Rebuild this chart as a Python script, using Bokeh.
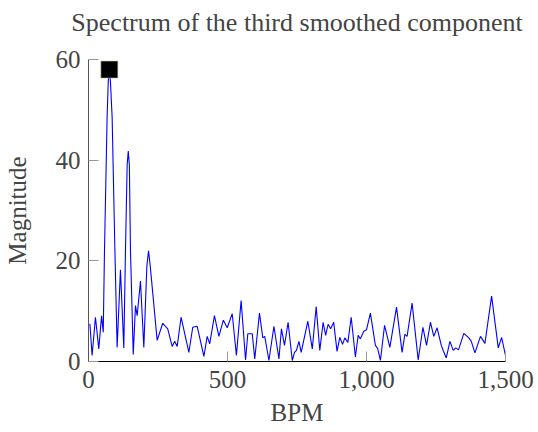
from bokeh.plotting import figure
from bokeh.models import NumeralTickFormatter, FixedTicker, Range1d, Title
from bokeh.embed import file_html
from bokeh.resources import INLINE

bpm = [5, 13, 25, 37, 47, 53, 57.5, 67, 71, 75, 79, 85, 95, 103, 115, 127, 133, 139, 143, 147, 151,
       161, 169, 175, 187, 199, 210, 216, 222, 247, 267, 285, 301, 310, 319, 333, 361, 375, 391,
       415, 427, 436, 453, 469, 485, 499, 517, 532, 549, 565, 573, 589, 598, 615, 627, 634,
       649, 667, 685, 694, 705, 718, 733, 741, 748, 757, 765, 789, 805, 819, 832, 844, 853,
       862, 871, 882, 894, 904, 914, 922, 933, 945, 960, 970, 978, 990, 1000, 1014, 1032,
       1040, 1050, 1065, 1084, 1108, 1128, 1138, 1146, 1164, 1186, 1203, 1216, 1230, 1242,
       1254, 1269, 1276, 1287, 1300, 1312, 1321, 1331, 1350, 1368, 1377, 1390, 1410, 1426,
       1450, 1474, 1486, 1500]
magnitude = [7.5, 1.2, 8.8, 2.5, 9.1, 5.8, 22, 48.6, 55.5, 58, 55.5, 48.6, 22, 2.8, 18.2, 2.7, 22, 39, 41.8, 39, 22,
             1.4, 11.1, 9.1, 16, 2.8, 19, 22, 19, 4.2, 7.6, 6.5, 3, 4, 3, 8.8, 1.8, 6.8, 7,
             1, 5, 3.5, 9.1, 5, 8.2, 6.7, 9.5, 1.2, 12.1, 0.3, 5.5, 5.5, 0.5, 9.6, 4.7, 5,
             0.2, 7, 0.5, 6.5, 3.2, 7.8, 0.2, 1.8, 2.2, 4, 1.8, 8, 2.5, 10.9, 2.2, 7.8, 5.2,
             7.4, 6.5, 7.8, 2, 4.8, 3.4, 4.7, 3.8, 8.8, 0.9, 5.2, 4.5, 6, 6.3, 9.6, 3.2,
             2.6, 0.2, 7.2, 2.8, 10.8, 1.8, 5.4, 5, 11.6, 0.3, 6.8, 3.2, 7.8, 5,
             6.7, 3.2, 2.2, 0.7, 4, 2.2, 2.7, 2.3, 5.6, 4.7, 4, 1.7, 5, 3.6,
             13, 2.7, 4.8, 1.2]
peak_bpm = [75]
peak_mag = [58]
x_ticks = [0, 500, 1000, 1500]
y_ticks = [0, 20, 40, 60]
title_text = "Spectrum of the third smoothed component"

FONT = "Liberation Serif"

p = figure(width=538, height=432, output_backend="svg", toolbar_location=None,
           x_range=Range1d(0, 1500), y_range=Range1d(0, 60),
           min_border_left=88, min_border_right=33, min_border_top=59, min_border_bottom=71)
p.outline_line_color = None
p.grid.visible = False
p.background_fill_color = "white"

p.line(bpm, magnitude, line_color="#0000ff", line_width=1.1)
p.scatter(peak_bpm, peak_mag, marker="square", size=17, fill_color="black",
          line_color="#c8c090", line_width=0.6)

# spacer panel between the frame and the title, then the title itself
spacer = Title(text=" ", text_font_size="2px", standoff=15)
p.add_layout(spacer, "above")
main_title = Title(text=title_text, align="center", text_font=FONT, text_font_size="26px",
                   text_font_style="normal", standoff=8)
p.add_layout(main_title, "above")

for ax in (p.xaxis[0], p.yaxis[0]):
    ax.major_label_text_font = FONT
    ax.major_label_text_font_size = "25px"
    ax.axis_label_text_font = FONT
    ax.axis_label_text_font_size = "25px"
    ax.axis_label_text_font_style = "normal"
    ax.major_tick_in = 10
    ax.major_tick_out = 0
    ax.minor_tick_in = 0
    ax.minor_tick_out = 0
    ax.major_tick_line_color = "#999999"
p.xaxis.axis_line_color = "black"
p.yaxis.axis_line_color = "#555555"

p.xaxis.ticker = FixedTicker(ticks=x_ticks)
p.yaxis.ticker = FixedTicker(ticks=y_ticks)
p.xaxis.formatter = NumeralTickFormatter(format="0,0")
p.xaxis.axis_label = "BPM"
p.yaxis.axis_label = "Magnitude"
p.xaxis.major_label_standoff = 9
p.yaxis.major_label_standoff = 8
p.xaxis.axis_label_standoff = 8
p.yaxis.axis_label_standoff = 22

open("out.html", "w").write(file_html(p, INLINE))
